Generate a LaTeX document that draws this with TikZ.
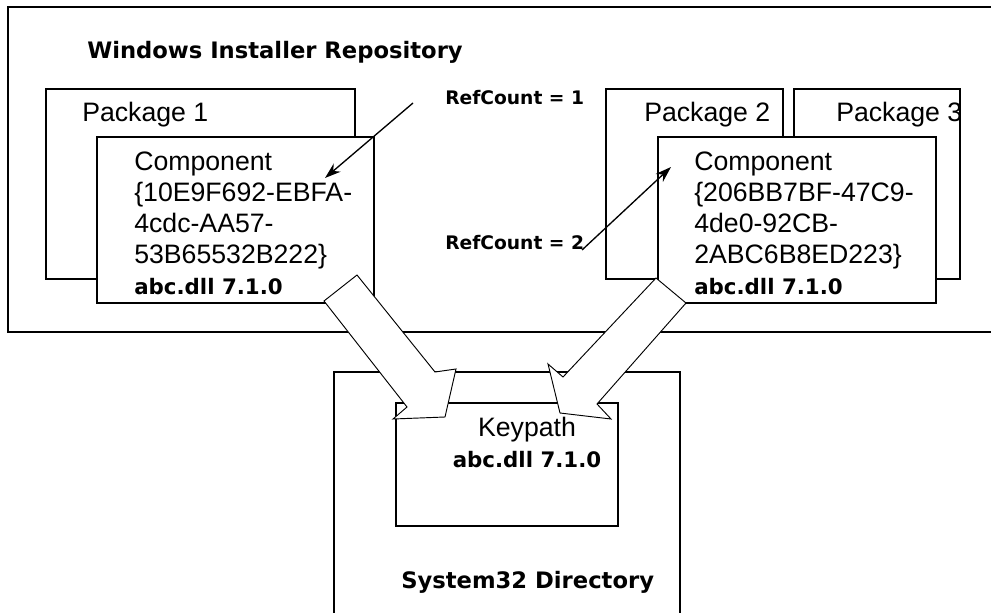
\documentclass[tikz,border=0pt]{standalone}
\usepackage{fontspec}
\setmainfont{Liberation Sans}
\newfontfamily\headfont{DejaVu Sans}
\usetikzlibrary{arrows.meta,fit}

\newcommand*\dllver{{\headfont\bfseries\fontsize{16}{23.25}\selectfont abc.dll 7.1.0}}

\begin{document}
\begin{tikzpicture}[
    x=0.75pt, y=-0.75pt,
    >={Stealth[length=12pt,width=8pt]},
    box/.style={draw, fill=white, line width=0.9pt, inner sep=0pt},
    txt/.style={anchor=base west, inner sep=0pt,
                font=\fontsize{20}{23.25}\selectfont},
    head/.style={anchor=base west, inner sep=0pt,
                 font=\headfont\bfseries\fontsize{17}{20}\selectfont},
    ref/.style={anchor=base west, inner sep=0pt,
                font=\headfont\bfseries\fontsize{14}{17}\selectfont},
    blockarrow/.style={draw, fill=white, line width=0.7pt, line join=miter},
    thinarrow/.style={->, line width=1pt},
]
\useasboundingbox (0,0) rectangle (991,613);

% === Windows Installer Repository ===
\node[box, fit={(8,7)(996,332)}] (repo) {};
\node[head] (repotitle) at (87,59) {Windows Installer Repository};

% === Left side: Package 1 ===
\node[box, fit={(46,89)(355,279)}] (pkg1) {};
\node[txt] (pkg1txt) at (82,122) {Package 1};
\node[box, fit={(97,137)(374,303)}] (comp1) {};
% base of a multi-line node = last line
\node[txt, align=left] (comp1txt) at (134,294)
     {Component\\\{10E9F692-EBFA-\\4cdc-AA57-\\53B65532B222\}\\\dllver};

% === Right side: Package 2 and 3 ===
\node[box, fit={(606,89)(783,279)}] (pkg2) {};
\node[txt] (pkg2txt) at (644,122) {Package 2};
\node[box, fit={(794,89)(960,279)}] (pkg3) {};
\node[txt] (pkg3txt) at (836,122) {Package 3};
\node[box, fit={(658,137)(936,303)}] (comp2) {};
\node[txt, align=left] (comp2txt) at (694,294)
     {Component\\\{206BB7BF-47C9-\\4de0-92CB-\\2ABC6B8ED223\}\\\dllver};

% === System32 Directory ===
\node[box, fit={(334,372)(680,630)}] (sys32) {};
\node[head] (sys32title) at (401,588) {System32 Directory};
\node[box, fit={(396,403)(618,526)}] (keypath) {};
\node[txt, align=center, anchor=base] (keytxt) at (527,467) {Keypath\\\dllver};

% === Block arrows: components -> keypath ===
\draw[blockarrow] (324,301) -- (357,275) -- (435,372) -- (456,369)
     -- (445,417) -- (393,419) -- (407,407) -- cycle;
\draw[blockarrow] (656,278) -- (686,303) -- (597,404) -- (611,419)
     -- (560,413) -- (548,364) -- (563,377) -- cycle;

% === RefCount labels ===
\node[ref] (ref1) at (445,105) {RefCount = 1};
\node[ref] (ref2) at (445,249) {RefCount = 2};
\coordinate (ref1tail) at (413,103);
\coordinate (ref1tip) at (325,178);
\coordinate (ref2tail) at (582,250);
\coordinate (ref2tip) at (671,167);
\draw[thinarrow] (ref1tail) -- (ref1tip);
\draw[thinarrow] (ref2tail) -- (ref2tip);

\end{tikzpicture}
\end{document}
